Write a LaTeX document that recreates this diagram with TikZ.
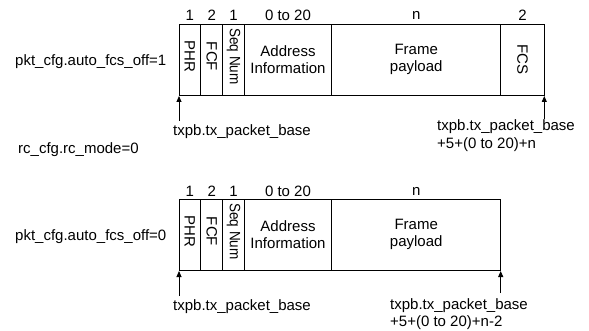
\documentclass[tikz,border=0pt]{standalone}
\usepackage{fontspec}
\usepackage{graphicx}
\setmainfont{Liberation Sans}
\usetikzlibrary{arrows.meta}

\begin{document}
\begin{tikzpicture}[x=1pt,y=-1pt,
  txtfont/.style={font=\fontsize{15}{17.5}\selectfont},
  field/.style={draw, line width=0.9pt, inner sep=0pt, outer sep=0pt,
                anchor=north west, minimum height=71pt, align=center, txtfont},
  rotlbl/.style={inner sep=0pt, txtfont, yshift=3pt},
  num/.style={inner sep=0pt, txtfont},
  txt/.style={inner sep=0pt, anchor=west, align=left, txtfont},
  ptr/.style={line width=0.9pt, -{Triangle[length=6pt,width=5pt]}, shorten >=1pt}]
\useasboundingbox (0,0) rectangle (589,331);

% ---------- frame with FCS (auto_fcs_off = 1) ----------
\node[field, minimum width=21.7pt] (phr1) at (179,24)
  [label={[rotlbl]center:\rotatebox{-90}{PHR}}] {};
\node[field, minimum width=22pt] (fcf1) at (phr1.north east)
  [label={[rotlbl]center:\rotatebox{-90}{FCF}}] {};
\node[field, minimum width=21.6pt] (seq1) at (fcf1.north east)
  [label={[rotlbl]center:\rotatebox{-90}{\scalebox{0.9}[1]{Seq Num}}}] {};
\node[field, minimum width=87.4pt] (adr1) at (seq1.north east) {Address\\Information};
\node[field, minimum width=169pt] (pay1) at (adr1.north east) {Frame\\payload};
\node[field, minimum width=43.6pt] (fcs1) at (pay1.north east)
  [label={[rotlbl,yshift=-3pt]center:\rotatebox{-90}{FCS}}] {};

\node[num] at ([yshift=9pt]phr1.north) {1};
\node[num] at ([yshift=9pt]fcf1.north) {2};
\node[num] at ([yshift=9pt]seq1.north) {1};
\node[num] at ([yshift=9pt]adr1.north) {0 to 20};
\node[num] at ([yshift=9pt]pay1.north) {n};
\node[num] at ([yshift=9pt]fcs1.north) {2};

\node[txt] (cfg1) at (15,61.5) {pkt\_cfg.auto\_fcs\_off=1};
\node[txt] (mode) at (18,150) {rc\_cfg.rc\_mode=0};

\coordinate (s1) at ([yshift=-26pt]phr1.south west);
\coordinate (e1) at ([yshift=-24pt]fcs1.south east);
\draw[ptr] (s1) -- (phr1.south west);
\draw[ptr] (e1) -- (fcs1.south east);
\node[txt] (base1) at (173,131.5) {txpb.tx\_packet\_base};
\node[txt] (end1) at (437,135.5) {txpb.tx\_packet\_base\\+5+(0 to 20)+n};

% ---------- frame without FCS (auto_fcs_off = 0) ----------
\node[field, minimum width=21.7pt] (phr2) at (179,199)
  [label={[rotlbl]center:\rotatebox{-90}{PHR}}] {};
\node[field, minimum width=22pt] (fcf2) at (phr2.north east)
  [label={[rotlbl]center:\rotatebox{-90}{FCF}}] {};
\node[field, minimum width=21.6pt] (seq2) at (fcf2.north east)
  [label={[rotlbl]center:\rotatebox{-90}{\scalebox{0.9}[1]{Seq Num}}}] {};
\node[field, minimum width=87.4pt] (adr2) at (seq2.north east) {Address\\Information};
\node[field, minimum width=169pt] (pay2) at (adr2.north east) {Frame\\payload};

\node[num] at ([yshift=8pt]phr2.north) {1};
\node[num] at ([yshift=8pt]fcf2.north) {2};
\node[num] at ([yshift=8pt]seq2.north) {1};
\node[num] at ([yshift=8pt]adr2.north) {0 to 20};
\node[num] at ([yshift=8pt]pay2.north) {n};

\node[txt] (cfg2) at (15,236.5) {pkt\_cfg.auto\_fcs\_off=0};

\coordinate (s2) at ([yshift=-26pt]phr2.south west);
\coordinate (e2) at ([yshift=-23pt]pay2.south east);
\draw[ptr] (s2) -- (phr2.south west);
\draw[ptr] (e2) -- (pay2.south east);
\node[txt] (base2) at (173,306.5) {txpb.tx\_packet\_base};
\node[txt] (end2) at (390,314) {txpb.tx\_packet\_base\\+5+(0 to 20)+n-2};
\end{tikzpicture}
\end{document}
